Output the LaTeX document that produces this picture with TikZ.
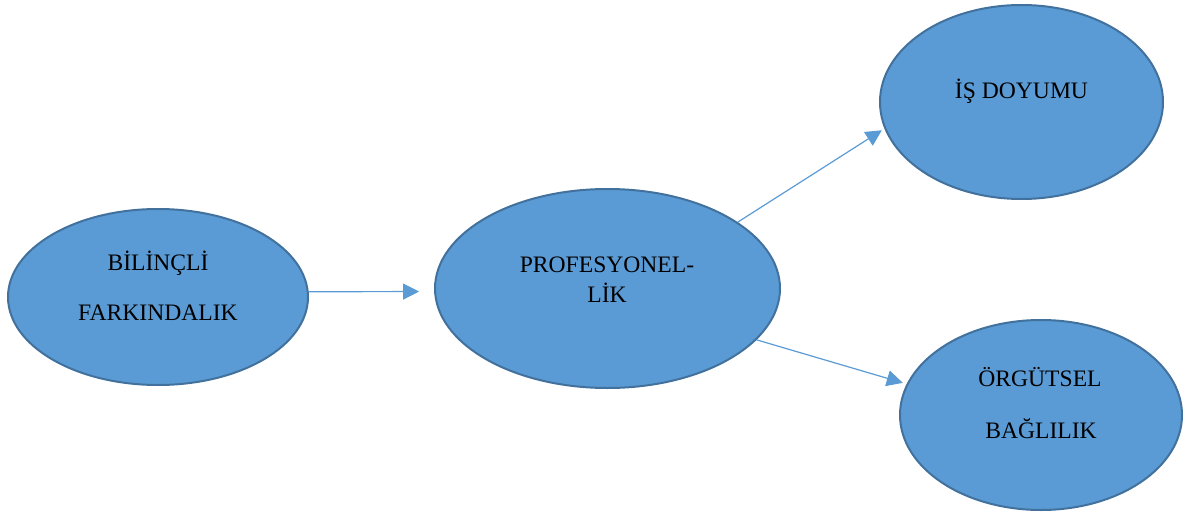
\documentclass[tikz,border=0pt]{standalone}
\usepackage{fontspec}
\setmainfont{Liberation Serif}
\usetikzlibrary{shapes.geometric,arrows.meta}
\definecolor{bubble}{HTML}{5B9BD5}
\definecolor{bubbleline}{HTML}{41719C}
\begin{document}
\begin{tikzpicture}[x=1pt,y=-1pt,
  bubble/.style={ellipse,draw=bubbleline,line width=2pt,fill=bubble,inner sep=0pt},
  lbl/.style={anchor=base,inner sep=0pt,font=\fontsize{23.6}{28}\selectfont},
  link/.style={draw=bubble,line width=1.2pt,-{Triangle[length=16pt,width=16pt]}}]
\useasboundingbox (0,0) rectangle (1186,516);

% the four concepts
\node[bubble,minimum width=300pt,minimum height=176pt] (bf) at (158,297) {};
\node[bubble,minimum width=345pt,minimum height=199pt] (pr) at (607.5,288.5) {};
\node[bubble,minimum width=283pt,minimum height=194pt] (id) at (1021.5,102) {};
\node[bubble,minimum width=282pt,minimum height=190pt] (ob) at (1041,415) {};

% their labels
\node[lbl] (bf1) at (158,270) {BİLİNÇLİ};
\node[lbl] (bf2) at (158,320) {FARKINDALIK};
\node[lbl] (pr1) at (607,272) {PROFESYONEL-};
\node[lbl] (pr2) at (607,302) {LİK};
\node[lbl] (id1) at (1021.5,99) {İŞ DOYUMU};
\node[lbl] (ob1) at (1040,386) {ÖRGÜTSEL};
\node[lbl] (ob2) at (1041,438) {BAĞLILIK};

% connectors
\draw[link,shorten >=15pt] (bf.2) -- (pr.181);
\draw[link,shorten >=3pt] (pr.27.5) -- (id.191.3);
\draw[link,shorten >=4pt] (pr.-19.9) -- (ob.167.8);
\end{tikzpicture}
\end{document}
